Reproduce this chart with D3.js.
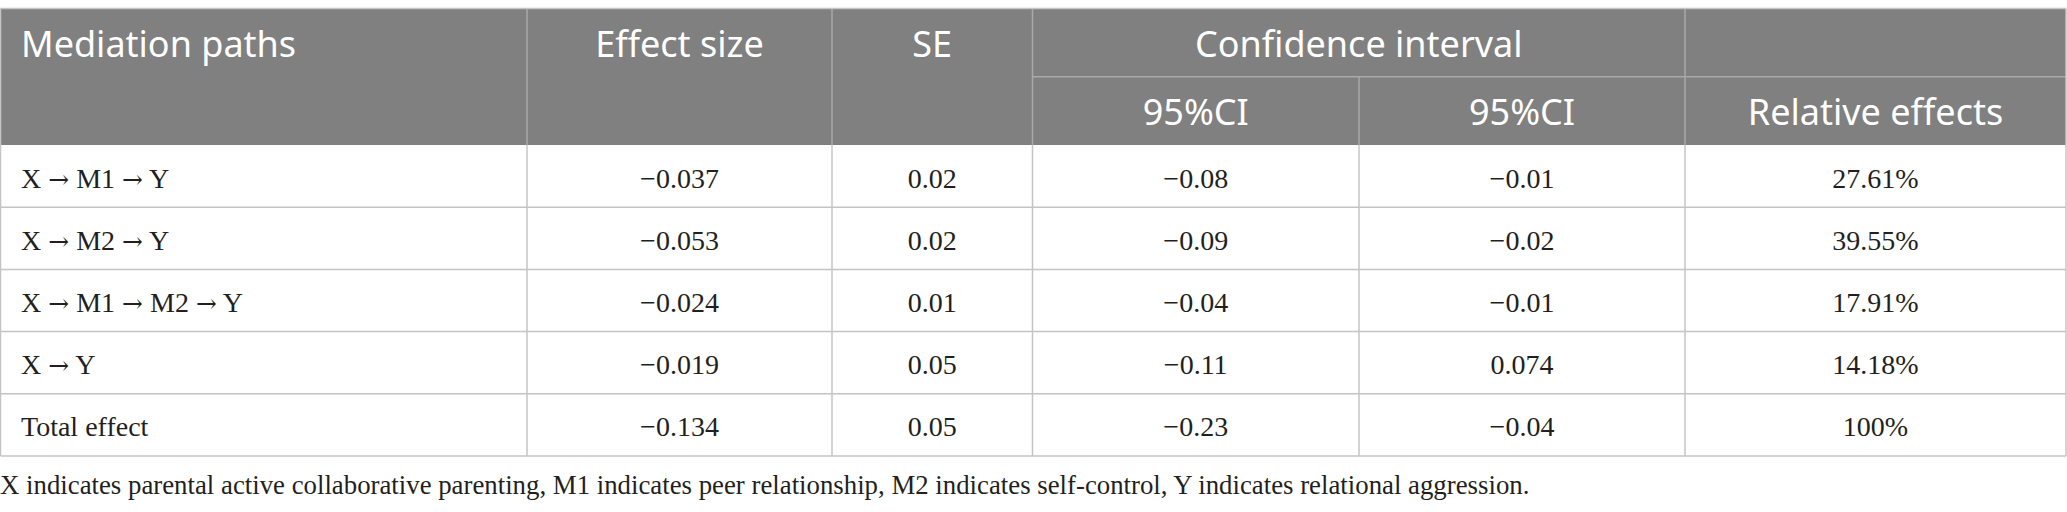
<!DOCTYPE html>
<html>
<head>
<meta charset="utf-8">
<script src="https://cdn.jsdelivr.net/npm/d3@7"></script>
<style>
  body { margin: 0; background: #fff; }
</style>
</head>
<body>
<script>
const w = 2067;
const h = 512;

// Table content
const paths = ["X \u2192 M1 \u2192 Y", "X \u2192 M2 \u2192 Y", "X \u2192 M1 \u2192 M2 \u2192 Y", "X \u2192 Y", "Total effect"];
const effectSize = ["\u22120.037", "\u22120.053", "\u22120.024", "\u22120.019", "\u22120.134"];
const se = ["0.02", "0.02", "0.01", "0.05", "0.05"];
const ciLow = ["\u22120.08", "\u22120.09", "\u22120.04", "\u22120.11", "\u22120.23"];
const ciHigh = ["\u22120.01", "\u22120.02", "\u22120.01", "0.074", "\u22120.04"];
const relEffects = ["27.61%", "39.55%", "17.91%", "14.18%", "100%"];
const headerTop = ["Mediation paths", "Effect size", "SE", "Confidence interval", ""];
const headerSub = ["95%CI", "95%CI", "Relative effects"];
const note = "X indicates parental active collaborative parenting, M1 indicates peer relationship, M2 indicates self-control, Y indicates relational aggression.";

// column edges (layout)
const edges = [0.5, 527, 832, 1032.5, 1359, 1685, 2066];
const headFill = "#7f807f";
const headLine = "#a8a9a8";
const bodyLine = "#c4c4c4";
const ink = "#231f20";

const svg = d3.select("body").append("svg").attr("width", w).attr("height", h);

// header row bands
const yHead = d3.scaleBand().domain([0, 1]).range([8.5, 145]);
// body rows
const yRow = d3.scaleBand().domain(d3.range(paths.length)).range([145, 456]);

// header background
svg.append("rect")
  .attr("x", edges[0]).attr("y", yHead(0))
  .attr("width", edges[6] - edges[0]).attr("height", 145 - yHead(0))
  .attr("fill", headFill);

// header lines
const hl = svg.append("g").attr("stroke", headLine).attr("stroke-width", 1.5);
hl.append("line").attr("x1", edges[3]).attr("x2", edges[6])
  .attr("y1", yHead(1)).attr("y2", yHead(1));
[edges[1], edges[2], edges[3], edges[5]].forEach((x) => {
  hl.append("line").attr("x1", x).attr("x2", x).attr("y1", yHead(0)).attr("y2", 145);
});
hl.append("line").attr("x1", edges[4]).attr("x2", edges[4])
  .attr("y1", yHead(1)).attr("y2", 145);

// header texts
const headFont = "'Noto Sans', 'Open Sans', sans-serif";
const topX = [21, (edges[1] + edges[2]) / 2, (edges[2] + edges[3]) / 2, (edges[3] + edges[5]) / 2];
svg.append("g").selectAll("text")
  .data(headerTop.slice(0, 4))
  .join("text")
  .attr("x", (d, i) => topX[i])
  .attr("y", yHead(0) + yHead.bandwidth() / 2 + 14)
  .attr("text-anchor", (d, i) => (i === 0 ? "start" : "middle"))
  .attr("font-family", headFont)
  .attr("font-size", 36)
  .attr("fill", "#fff")
  .text((d) => d);

const subX = [(edges[3] + edges[4]) / 2, (edges[4] + edges[5]) / 2, (edges[5] + edges[6]) / 2];
svg.append("g").selectAll("text")
  .data(headerSub)
  .join("text")
  .attr("x", (d, i) => subX[i])
  .attr("y", yHead(1) + yHead.bandwidth() / 2 + 14.5)
  .attr("text-anchor", "middle")
  .attr("font-family", headFont)
  .attr("font-size", 36)
  .attr("fill", "#fff")
  .text((d) => d);

// body grid
const bl = svg.append("g").attr("stroke", bodyLine).attr("stroke-width", 1.5);
yRow.domain().forEach((i) => {
  bl.append("line").attr("x1", edges[0]).attr("x2", edges[6])
    .attr("y1", yRow(i) + yRow.bandwidth()).attr("y2", yRow(i) + yRow.bandwidth());
});
bl.append("line").attr("x1", edges[0]).attr("x2", edges[6]).attr("y1", 8.5).attr("y2", 8.5);
edges.forEach((x) => {
  bl.append("line").attr("x1", x).attr("x2", x).attr("y1", 145).attr("y2", 456);
});
[edges[0], edges[6]].forEach((x) => {
  bl.append("line").attr("x1", x).attr("x2", x).attr("y1", 8.5).attr("y2", 145);
});

// body texts
const cols = [paths, effectSize, se, ciLow, ciHigh, relEffects];
const bodyFont = "'Liberation Serif', 'Times New Roman', serif";
cols.forEach((col, c) => {
  const t = svg.append("g").selectAll("text")
    .data(col)
    .join("text")
    .attr("x", c === 0 ? 21 : (edges[c] + edges[c + 1]) / 2)
    .attr("y", (d, i) => yRow(i) + yRow.bandwidth() / 2 + 11.5)
    .attr("text-anchor", c === 0 ? "start" : "middle")
    .attr("font-family", bodyFont)
    .attr("font-size", 28)
    .attr("fill", ink);
  if (c === 0) {
    // arrows drawn with a font that has a full-width arrow glyph
    t.each(function (d) {
      const el = d3.select(this);
      d.split(/(\u2192)/).forEach((part) => {
        const s = el.append("tspan").text(part);
        if (part === "\u2192") s.attr("font-family", "'DejaVu Serif', serif").attr("font-size", 25);
      });
    });
  } else {
    t.text((d) => d);
  }
});

// footnote
svg.append("text")
  .attr("x", 0)
  .attr("y", 494)
  .attr("font-family", bodyFont)
  .attr("font-size", 26.8)
  .attr("fill", ink)
  .text(note);
</script>
</body>
</html>
